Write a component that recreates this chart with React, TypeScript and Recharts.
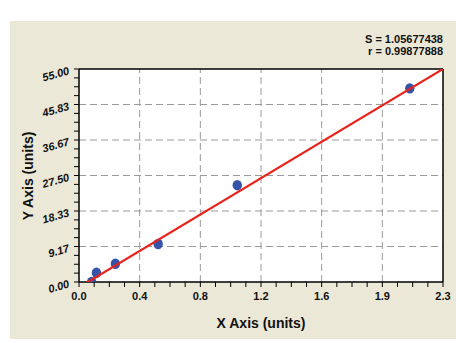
import React from "react";
import {
  ScatterChart,
  Scatter,
  XAxis,
  YAxis,
  CartesianGrid,
  ReferenceLine,
} from "recharts";

// measured standards
const STD_X = [0.08, 0.11, 0.23, 0.5, 1.0, 2.09];
const STD_Y = [0.0, 2.4, 4.7, 9.8, 25.0, 50.0];

// fitted line end points
const FIT_X = [0.04, 2.3];
const FIT_Y = [-0.4, 55.0];

const X_LABELS = ["0.0", "0.4", "0.8", "1.2", "1.6", "1.9", "2.3"];
const Y_LABELS = ["0.00", "9.17", "18.33", "27.50", "36.67", "45.83", "55.00"];

const X_MAX = 2.3;
const Y_MAX = 55;
const DIVS = 24; // 6 majors x 4 minors

const FONT = '"Liberation Sans", Arial, sans-serif';

const points = STD_X.map((x, i) => ({ x, y: STD_Y[i] }));
const fit = FIT_X.map((x, i) => ({ x, y: FIT_Y[i] }));

const xTicks = Array.from({ length: DIVS + 1 }, (_, i) => (i * X_MAX) / DIVS);
const yTicks = Array.from({ length: DIVS + 1 }, (_, i) => (i * Y_MAX) / DIVS);
const xMajors = X_LABELS.map((_, i) => (i * X_MAX) / 6);
const yMajors = Y_LABELS.map((_, i) => (i * Y_MAX) / 6);

const XTick = (props: any) => {
  const { x, y, index } = props;
  const major = index % 4 === 0;
  return (
    <g>
      <line x1={x} x2={x} y1={y} y2={y + 5} stroke="#000" strokeWidth={1} />
      {major && (
        <text
          x={x}
          y={y + 18}
          textAnchor="middle"
          fontSize={11}
          fontWeight="bold"
          fontFamily={FONT}
          fill="#111"
        >
          {X_LABELS[index / 4]}
        </text>
      )}
    </g>
  );
};

const YTick = (props: any) => {
  const { x, y, index } = props;
  const major = index % 4 === 0;
  const tx = x - 9;
  const ty = y + 5;
  return (
    <g>
      <line x1={x - 5} x2={x} y1={y} y2={y} stroke="#000" strokeWidth={1} />
      {major && (
        <text
          x={tx}
          y={ty}
          textAnchor="end"
          fontSize={11}
          fontWeight="bold"
          fontStyle="italic"
          fontFamily={FONT}
          fill="#111"
          transform={`rotate(-16 ${tx} ${ty})`}
        >
          {Y_LABELS[index / 4]}
        </text>
      )}
    </g>
  );
};

const Dot = (props: any) => (
  <ellipse cx={props.cx} cy={props.cy} rx={4.7} ry={5.2} fill="#3553a8" />
);

export default function App() {
  return (
    <div style={{ position: "absolute", left: 0, top: 0, width: 456, height: 343, background: "#fff" }}>
      <div
        style={{
          position: "absolute",
          left: 10,
          top: 21,
          width: 446,
          height: 318,
          background: "#ebe8d8",
        }}
      />
      <div style={{ position: "absolute", left: 0, top: 0 }}>
        <ScatterChart
          width={456}
          height={343}
          margin={{ top: 69, right: 13, bottom: 0, left: 0 }}
        >
          <CartesianGrid fill="#fff" horizontal={false} vertical={false} />
          <XAxis
            type="number"
            dataKey="x"
            domain={[0, X_MAX]}
            ticks={xTicks}
            interval={0}
            allowDataOverflow
            height={61}
            tickSize={0}
            tickMargin={0}
            tickLine={false}
            tick={<XTick />}
            axisLine={{ stroke: "#000", strokeWidth: 1.5 }}
          />
          <YAxis
            type="number"
            dataKey="y"
            domain={[0, Y_MAX]}
            ticks={yTicks}
            interval={0}
            allowDataOverflow
            width={79}
            tickSize={0}
            tickMargin={0}
            tickLine={false}
            tick={<YTick />}
            axisLine={{ stroke: "#000", strokeWidth: 1.5 }}
          />
          {xMajors.slice(1, -1).map((v) => (
            <ReferenceLine key={"vx" + v} x={v} stroke="#9a9a9a" strokeDasharray="7 4" />
          ))}
          {yMajors.slice(1, -1).map((v) => (
            <ReferenceLine key={"hy" + v} y={v} stroke="#9a9a9a" strokeDasharray="7 4" />
          ))}
          <ReferenceLine x={X_MAX} stroke="#000" strokeWidth={1.5} />
          <ReferenceLine y={Y_MAX} stroke="#000" strokeWidth={1.5} />
          <Scatter
            data={points}
            shape={<Dot />}
            isAnimationActive={false}
          />
          <Scatter
            data={fit}
            line={{ stroke: "#e8231c", strokeWidth: 2.2 }}
            shape={() => <g />}
            isAnimationActive={false}
          />
          <text x={443} y={43} textAnchor="end" fontSize={11} fontWeight="bold" fontFamily={FONT} fill="#111">
            S = 1.05677438
          </text>
          <text x={443} y={55} textAnchor="end" fontSize={11} fontWeight="bold" fontFamily={FONT} fill="#111">
            r = 0.99877888
          </text>
          <text x={261} y={328} textAnchor="middle" fontSize={14} fontWeight="bold" fontFamily={FONT} fill="#111">
            X Axis (units)
          </text>
          <text
            x={33}
            y={176}
            textAnchor="middle"
            fontSize={14}
            fontWeight="bold"
            fontFamily={FONT}
            fill="#111"
            transform="rotate(-90 33 176)"
          >
            Y Axis (units)
          </text>
        </ScatterChart>
      </div>
    </div>
  );
}
